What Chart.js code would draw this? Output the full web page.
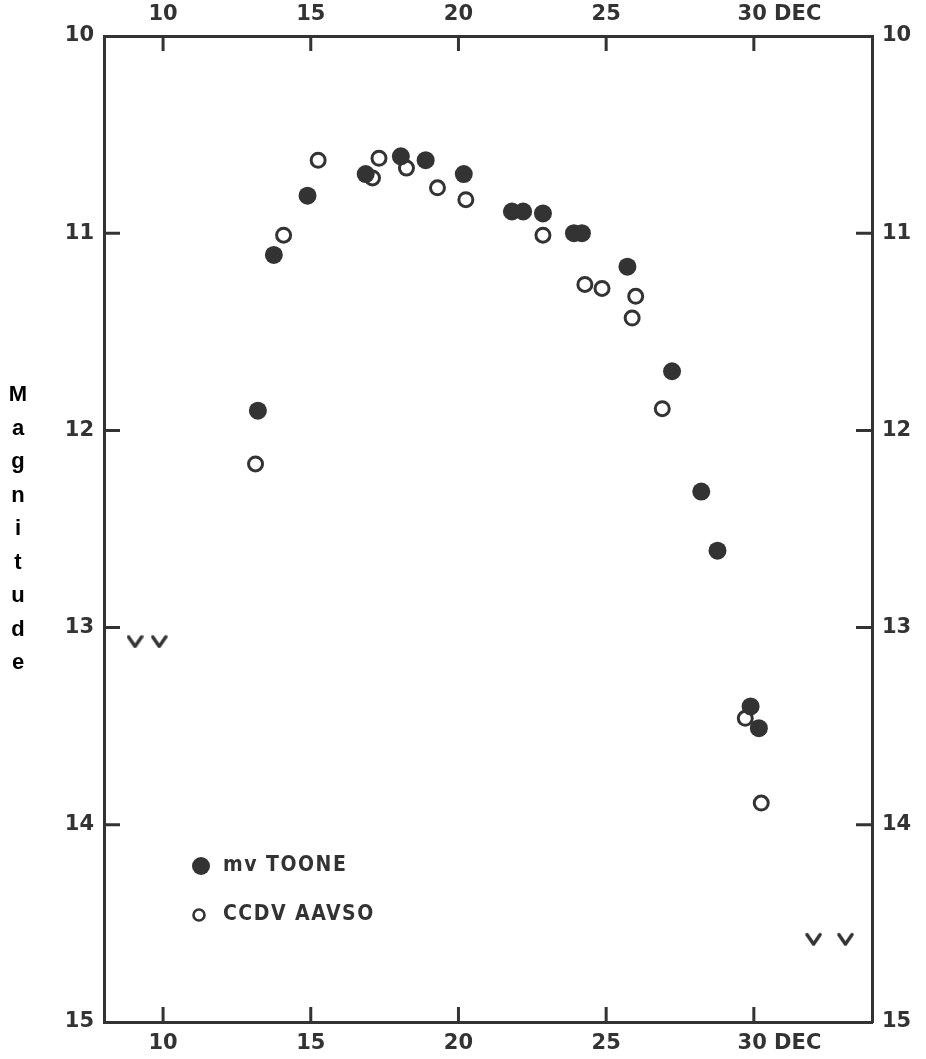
<!DOCTYPE html>
<html>
<head>
<meta charset="utf-8">
<title>Magnitude light curve</title>
<script src="https://cdn.jsdelivr.net/npm/chart.js@4.4.1/dist/chart.umd.min.js"></script>
<style>
  html, body { margin: 0; padding: 0; background: #fff; }
  #wrap { width: 926px; height: 1059px; position: relative; }
</style>
</head>
<body>
<div id="wrap"><canvas id="lightCurve"></canvas></div>
<script>
// days in December, magnitudes
const toonDays = [13.21, 13.75, 14.89, 16.86, 18.05, 18.89, 20.18, 21.81, 22.19, 22.86, 23.91, 24.18, 25.72, 27.23, 28.22, 28.77, 29.89, 30.17];
const toonMags = [11.90, 11.11, 10.81, 10.70, 10.61, 10.63, 10.70, 10.89, 10.89, 10.90, 11.00, 11.00, 11.17, 11.70, 12.31, 12.61, 13.40, 13.51];

const aavsoDays = [13.13, 14.08, 15.25, 17.09, 17.31, 18.24, 19.29, 20.25, 22.86, 24.28, 24.86, 25.88, 26.00, 26.90, 29.71, 30.25];
const aavsoMags = [12.17, 11.01, 10.63, 10.72, 10.62, 10.67, 10.77, 10.83, 11.01, 11.26, 11.28, 11.43, 11.32, 11.89, 13.46, 13.89];

// fainter-than limits ("v" marks)
const limitDays = [9.05, 9.87, 32.02, 33.10];
const limitMags = [13.07, 13.07, 14.58, 14.58];

const dayTicks = [10, 15, 20, 25, 30];
const magTicks = [10, 11, 12, 13, 14, 15];

const ink = '#333333';
const tickFont = { family: 'DejaVu Sans', size: 21, weight: 'bold' };

function toPoints(xs, ys) {
  return xs.map((x, i) => ({ x: x, y: ys[i] }));
}

// little "v" glyph used as point style for the limits
const vMark = document.createElement('canvas');
vMark.width = 17;
vMark.height = 14;
(function () {
  const c = vMark.getContext('2d');
  c.strokeStyle = ink;
  c.lineWidth = 3.4;
  c.lineCap = 'round';
  c.lineJoin = 'round';
  c.beginPath();
  c.moveTo(2, 2.5);
  c.lineTo(8.5, 12);
  c.lineTo(15, 2.5);
  c.stroke();
})();

function dayLabel(v) {
  if (v === 30) return '       30 DEC';
  return String(v);
}

function fixTicks(values) {
  return function (scale) {
    scale.ticks = values.map(v => ({ value: v }));
  };
}

const frame = {
  id: 'frame',
  afterDraw(chart) {
    const ctx = chart.ctx;
    const a = chart.chartArea;
    const xs = chart.scales.x;
    const ys = chart.scales.y;
    ctx.save();
    ctx.strokeStyle = ink;
    ctx.lineWidth = 3;
    ctx.lineCap = 'butt';
    // inward tick marks
    dayTicks.forEach(v => {
      const px = xs.getPixelForValue(v);
      ctx.beginPath();
      ctx.moveTo(px, a.bottom);
      ctx.lineTo(px, a.bottom - 15);
      ctx.moveTo(px, a.top);
      ctx.lineTo(px, a.top + 15);
      ctx.stroke();
    });
    magTicks.slice(1, -1).forEach(v => {
      const py = ys.getPixelForValue(v);
      ctx.beginPath();
      ctx.moveTo(a.left, py);
      ctx.lineTo(a.left + 16, py);
      ctx.moveTo(a.right, py);
      ctx.lineTo(a.right - 16, py);
      ctx.stroke();
    });

    // legend inside the plot
    ctx.fillStyle = ink;
    ctx.beginPath();
    ctx.arc(201, 866, 9, 0, Math.PI * 2);
    ctx.fill();
    ctx.lineWidth = 2.6;
    ctx.beginPath();
    ctx.arc(199, 915, 5.5, 0, Math.PI * 2);
    ctx.stroke();
    ctx.font = 'bold 21px "DejaVu Sans Condensed"';
    ctx.letterSpacing = '1.5px';
    ctx.textBaseline = 'middle';
    ctx.textAlign = 'left';
    ctx.fillText('mv TOONE', 223, 866);
    ctx.fillText('CCDV AAVSO', 223, 915);

    // stacked y title
    ctx.letterSpacing = '0px';
    ctx.fillStyle = '#000';
    ctx.font = 'bold 22px "Liberation Sans"';
    ctx.textAlign = 'center';
    const title = 'Magnitude';
    for (let i = 0; i < title.length; i++) {
      ctx.fillText(title[i], 18, 395 + i * 33.5);
    }
    ctx.restore();
  }
};

new Chart(document.getElementById('lightCurve'), {
  type: 'scatter',
  data: {
    datasets: [
      {
        label: 'mv TOONE',
        data: toPoints(toonDays, toonMags),
        pointStyle: 'circle',
        pointRadius: 9,
        pointBackgroundColor: ink,
        pointBorderColor: ink,
        pointBorderWidth: 0
      },
      {
        label: 'CCDV AAVSO',
        data: toPoints(aavsoDays, aavsoMags),
        pointStyle: 'circle',
        pointRadius: 7,
        pointBackgroundColor: '#fff',
        pointBorderColor: ink,
        pointBorderWidth: 3
      },
      {
        label: 'limit',
        data: toPoints(limitDays, limitMags),
        pointStyle: vMark
      }
    ]
  },
  options: {
    responsive: true,
    maintainAspectRatio: false,
    animation: false,
    layout: { padding: 0 },
    plugins: {
      legend: { display: false },
      tooltip: { enabled: false }
    },
    scales: {
      x: {
        type: 'linear',
        position: 'bottom',
        min: 8,
        max: 34,
        afterBuildTicks: fixTicks(dayTicks),
        afterFit(s) { s.height = 37; },
        grid: { display: false, drawTicks: false },
        border: { display: true, color: ink, width: 3 },
        ticks: { color: ink, font: tickFont, padding: 9, maxRotation: 0, autoSkip: false, callback: dayLabel }
      },
      x2: {
        type: 'linear',
        axis: 'x',
        position: 'top',
        min: 8,
        max: 34,
        afterBuildTicks: fixTicks(dayTicks),
        afterFit(s) { s.height = 36; },
        grid: { display: false, drawTicks: false },
        border: { display: true, color: ink, width: 3 },
        ticks: { color: ink, font: tickFont, padding: 9, maxRotation: 0, autoSkip: false, callback: dayLabel }
      },
      y: {
        type: 'linear',
        position: 'left',
        reverse: true,
        min: 10,
        max: 15,
        afterBuildTicks: fixTicks(magTicks),
        afterFit(s) { s.width = 104; },
        grid: { display: false, drawTicks: false },
        border: { display: true, color: ink, width: 3 },
        ticks: { color: ink, font: tickFont, padding: 10 }
      },
      y2: {
        type: 'linear',
        axis: 'y',
        position: 'right',
        reverse: true,
        min: 10,
        max: 15,
        afterBuildTicks: fixTicks(magTicks),
        afterFit(s) { s.width = 54; },
        grid: { display: false, drawTicks: false },
        border: { display: true, color: ink, width: 3 },
        ticks: { color: ink, font: tickFont, padding: 10 }
      }
    }
  },
  plugins: [frame]
});
</script>
</body>
</html>
